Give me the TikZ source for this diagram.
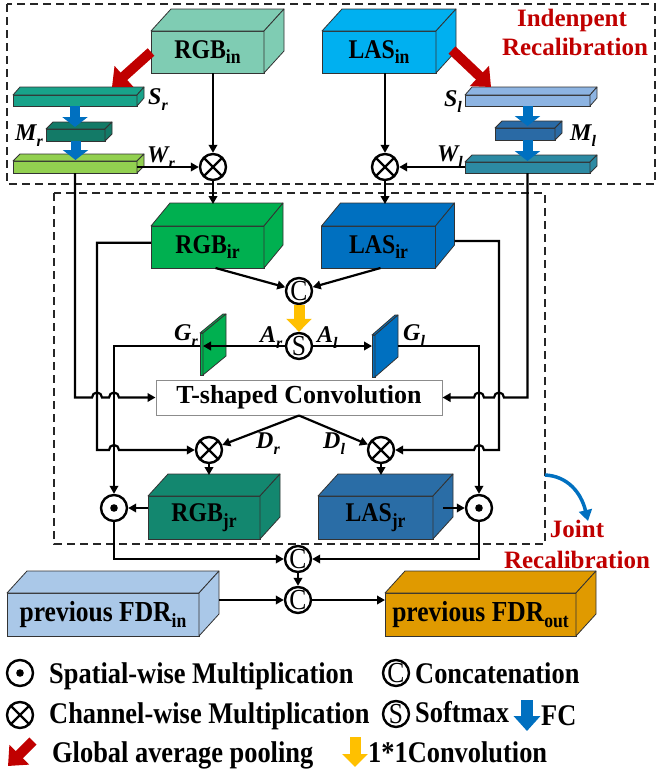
\documentclass[tikz,border=0pt]{standalone}
\usepackage{fontspec}
\setmainfont{Liberation Serif}
\newfontfamily\condfont[FakeStretch=0.88]{Liberation Serif}
\usetikzlibrary{arrows.meta,calc}
\definecolor{redc}{HTML}{C00000}
\definecolor{bluec}{HTML}{0070C0}
\definecolor{yelc}{HTML}{FFC000}
\definecolor{rgbinc}{HTML}{7FCCB3}
\definecolor{lasinc}{HTML}{00B0F0}
\definecolor{src}{HTML}{18A38A}
\definecolor{mrc}{HTML}{137A67}
\definecolor{wrc}{HTML}{92D050}
\definecolor{slc}{HTML}{8DB4E2}
\definecolor{mlc}{HTML}{2A6AA5}
\definecolor{wlc}{HTML}{2C8AA3}
\definecolor{rgbirc}{HTML}{00B050}
\definecolor{lasirc}{HTML}{0070C0}
\definecolor{rgbjrc}{HTML}{13876F}
\definecolor{lasjrc}{HTML}{2A6DA6}
\definecolor{fdrinc}{HTML}{AAC8E8}
\definecolor{fdroutc}{HTML}{E09A00}
\newcommand{\bsub}[1]{\raisebox{-0.2em}{\fontsize{20}{20}\selectfont #1}}
\newcommand{\isub}[1]{\raisebox{-0.25em}{\fontsize{16}{16}\selectfont\bfseries\itshape #1}}
\newcommand{\ilab}[2]{\fontsize{24}{26}\selectfont\bfseries\itshape #1\isub{#2}}
\newcommand{\boxfont}{\condfont\fontsize{27}{29}\selectfont\bfseries}
% name, center, width, height, depth, colour, text
\newcommand{\cubo}[7]{%
  \node[front,fill=#6,minimum width=#3,minimum height=#4] (#1) at (#2) {#7};
  \draw[face,fill=#6] (#1.north west) -- ++(#5) -- ($(#1.north east)+(#5)$) -- (#1.north east) -- cycle;
  \draw[face,fill=#6] (#1.north east) -- ++(#5) -- ($(#1.south east)+(#5)$) -- (#1.south east) -- cycle;
}
\begin{document}
\begin{tikzpicture}[x=1pt,y=-1pt,
  conn/.style={line width=2.2pt,-{Triangle[length=8pt,width=8.5pt]}},
  front/.style={draw=black!80,line width=0.8pt,inner sep=0pt,outer sep=0pt,font=\boxfont},
  face/.style={draw=black!80,line width=0.8pt,line join=round},
  opc/.style={circle,draw,line width=2.4pt,fill=white,minimum size=26pt,inner sep=0pt},
  otimes/.style={opc,path picture={\draw[line width=2.2pt] (path picture bounding box.north west)--(path picture bounding box.south east) (path picture bounding box.north east)--(path picture bounding box.south west);}},
  odot/.style={opc,path picture={\fill[black] (path picture bounding box.center) circle[radius=3.8];}},
  letc/.style={opc,font=\condfont\fontsize{29}{29}\selectfont,text height=19pt,text depth=0pt},
  rarrow/.style={draw=redc,line width=10pt,-{Triangle[length=16pt,width=27pt]}},
  barrow/.style={draw=bluec,line width=10pt,-{Triangle[length=10pt,width=25pt]}},
  yarrow/.style={draw=yelc,line width=11pt,-{Triangle[length=13pt,width=25pt]}},
  dbox/.style={draw=black!85,line width=1.3pt,dash pattern=on 8pt off 5pt},
  ilabel/.style={inner sep=0pt},
  legt/.style={font=\condfont\fontsize{30}{32}\selectfont\bfseries,inner sep=0pt},
  redt/.style={font=\fontsize{25}{27}\selectfont\bfseries,text=redc,inner sep=0pt},
]
\useasboundingbox (0,0) rectangle (658,772);
% dashed frames
\draw[dbox] (7,4) rectangle (655,184);
\draw[dbox] (54,193) rectangle (545,544);
\node[redt,anchor=base] (t1) at (572,26) {Indenpent};
\node[redt,anchor=base] (t2) at (575,55) {Recalibration};
\node[redt,anchor=base] (t3) at (577,537) {Joint};
\node[redt,anchor=base] (t4) at (577,568) {Recalibration};
% cuboids
\cubo{rgbin}{207.5,52}{113}{42}{20,-22}{rgbinc}{RGB\bsub{in}}
\cubo{lasin}{379,52}{114}{42}{20,-22}{lasinc}{LAS\bsub{in}}
\cubo{sr}{75,100.5}{124}{11}{7,-8}{src}{}
\cubo{mr}{75.5,135}{59}{12}{7,-7}{mrc}{}
\cubo{wr}{75,167}{124}{12}{7,-7}{wrc}{}
\cubo{sl}{527.5,100.5}{125}{11}{7,-8}{slc}{}
\cubo{ml}{525,134}{60}{12}{7,-7}{mlc}{}
\cubo{wl}{527.5,167.5}{125}{11}{7,-7}{wlc}{}
\cubo{rgbir}{207.5,247}{113}{42}{19,-23}{rgbirc}{RGB\bsub{ir}}
\cubo{lasir}{378.5,247}{114}{42}{19,-23}{lasirc}{LAS\bsub{ir}}
\cubo{gr}{201.5,354}{3}{42}{23,-19}{rgbirc}{}
\cubo{gl}{373.5,356}{3}{42}{23,-20}{lasirc}{}
\cubo{rgbjr}{204,517.5}{112}{43}{20,-22}{rgbjrc}{RGB\bsub{jr}}
\cubo{lasjr}{375.5,517.5}{115}{43}{20,-22}{lasjrc}{LAS\bsub{jr}}
\cubo{fdrin}{103,614.5}{192}{43}{20,-22}{fdrinc}{\fontsize{29}{30}\selectfont previous FDR\bsub{in}}
\cubo{fdrout}{480.5,614.5}{191}{43}{20,-22}{fdroutc}{\fontsize{29}{30}\selectfont previous FDR\bsub{out}}
% labels
\node[ilabel,anchor=base west] (lsr) at (148,104) {\ilab{S}{r}};
\node[ilabel,anchor=base east] (lmr) at (43,140) {\ilab{M}{r}};
\node[ilabel,anchor=base west] (lwr) at (147,162) {\ilab{W}{r}};
\node[ilabel,anchor=base east] (lsl) at (462,106) {\ilab{S}{l}};
\node[ilabel,anchor=base west] (lml) at (570,140) {\ilab{M}{l}};
\node[ilabel,anchor=base east] (lwl) at (463,161) {\ilab{W}{l}};
\node[ilabel,anchor=base east] (lgr) at (198,340) {\ilab{G}{r}};
\node[ilabel,anchor=base west] (lgl) at (403,340) {\ilab{G}{l}};
\node[ilabel,anchor=base west] (lar) at (260,342) {\ilab{A}{r}};
\node[ilabel,anchor=base west] (lal) at (317,342) {\ilab{A}{l}};
\node[ilabel,anchor=base west] (ldr) at (256,448) {\ilab{D}{r}};
\node[ilabel,anchor=base west] (ldl) at (323,448) {\ilab{D}{l}};
% T-shaped convolution
\node[draw=black!45,line width=1pt,fill=white,minimum width=286pt,minimum height=35pt,inner sep=0pt,
      font=\fontsize{26}{28}\selectfont\bfseries] (tconv) at (299,397.5) {T-shaped Convolution};
% operators
\node[otimes] (ox1) at (213,167) {};
\node[otimes] (ox2) at (385,167) {};
\node[letc] (c1) at (299,291) {C};
\node[letc] (s1) at (299,346) {S};
\node[otimes] (ox3) at (209,450) {};
\node[otimes] (ox4) at (381,450) {};
\node[odot] (od1) at (114,508) {};
\node[odot] (od2) at (479,508) {};
\node[letc] (c2) at (298,559) {C};
\node[letc] (c3) at (298,600) {C};
% block arrows
\coordinate (srtip) at (112,87);
\coordinate (sltip) at (491,87);
\draw[rarrow] (rgbin.west) -- (srtip);
\draw[rarrow] ($(lasin.east)+(16,-2)$) -- (sltip);
\draw[barrow] (sr.south) -- ($(sr.south |- mr.north)+(0,-2)$);
\draw[barrow] (mr.south) -- ($(mr.south |- wr.north)+(0,-1)$);
\draw[barrow] (sl.south) -- ($(sl.south |- ml.north)+(0,-2)$);
\draw[barrow] (sl.south |- ml.south) -- ($(sl.south |- wl.north)+(0,-1)$);
\draw[yarrow] (c1.south) -- (s1.north);
% top connectors
\draw[conn] (rgbin.south -| ox1) -- (ox1.north);
\draw[conn] (wr.east |- ox1.west) -- (ox1.west);
\draw[conn] (lasin.south -| ox2) -- (ox2.north);
\draw[conn] (wl.west |- ox2.east) -- (ox2.east);
\draw[conn] (ox1.south) -- ($(ox1.south |- rgbir.north)+(0,-22)$);
\draw[conn] (ox2.south) -- ($(ox2.south |- lasir.north)+(0,-22)$);
\draw[conn] ($(rgbir.south)+(8,0)$) -- (c1);
\draw[conn] ($(lasir.south)+(2,0)$) -- (c1);
% attention maps
\draw[conn] (s1.west) -- (gr.east |- s1.west);
\draw[conn] (gr.west |- s1.west) -| (od1.north);
\draw[conn] (s1.east) -- (gl.west |- s1.east);
\coordinate (glr) at ($(gl.east |- s1.east)+(23,0)$);
\draw[conn] (glr) -| (od2.north);
% long feeds with hops
\draw[conn] (wr.south) -- (wr.south |- tconv.west) -- (92,397.5) arc[start angle=180,end angle=360,radius=5]
  -- (109,397.5) arc[start angle=180,end angle=360,radius=5] -- (tconv.west);
\coordinate (rl) at ($(rgbir.north west)!0.4!(rgbir.south west)$);
\draw[conn] (rl) -| (97,450) -- (109,450) arc[start angle=180,end angle=360,radius=5] -- (ox3.west);
\coordinate (lr) at ($(lasir.east)+(19,-6)$);
\draw[conn] (lr) -| (499,450) -- (484,450) arc[start angle=0,end angle=-180,radius=5] -- (ox4.east);
\draw[conn] (wl.south) -- (wl.south |- tconv.east) -- (504,397.5) arc[start angle=0,end angle=-180,radius=5]
  -- (484,397.5) arc[start angle=0,end angle=-180,radius=5] -- (tconv.east);
% D branches
\draw[conn] (tconv.south) -- (ox3);
\draw[conn] (tconv.south) -- (ox4);
\draw[conn] (ox3.south) -- ($(ox3.south |- rgbjr.north)+(0,-21)$);
\draw[conn] (ox4.south) -- ($(ox4.south |- lasjr.north)+(0,-21)$);
\draw[conn] (rgbjr.west |- od1.east) -- (od1.east);
\draw[conn] ($(lasjr.east |- od2.west)+(10,0)$) -- (od2.west);
% bottom
\draw[conn] (od1.south) |- (c2.west);
\draw[conn] (od2.south) |- (c2.east);
\draw[conn] (c2.south) -- (c3.north);
\draw[conn] ($(fdrin.east |- c3.west)+(20,0)$) -- (c3.west);
\draw[conn] (c3.east) -- (fdrout.west |- c3.east);
% joint swoosh
\draw[bluec,line width=3.5pt,-{Triangle[length=11pt,width=13pt]}] (545,475) .. controls (567,476) and (581,492) .. (588,521);
% legend
\node[odot] (lg1) at (20,673) {};
\node[otimes] (lg2) at (20,715) {};
\draw[rarrow] (33,741) -- (8,766);
\node[letc] (lg3) at (396,673) {C};
\node[letc] (lg4) at (396,714) {S};
\draw[draw=bluec,line width=12pt,-{Triangle[length=15pt,width=26pt]}] (527,700) -- (527,731);
\draw[yarrow] (355,737) -- (355,767);
\node[legt,anchor=base west] (lt1) at (49,683) {Spatial-wise Multiplication};
\node[legt,anchor=base west] (lt2) at (49,723) {Channel-wise Multiplication};
\node[legt,anchor=base west] (lt3) at (52,762) {Global average pooling};
\node[legt,anchor=base west] (lt4) at (415,683) {Concatenation};
\node[legt,anchor=base west] (lt5) at (415,722) {Softmax};
\node[legt,anchor=base west] (lt6) at (541,725) {FC};
\node[legt,anchor=base west] (lt7) at (368,762) {1*1Convolution};
\end{tikzpicture}
\end{document}
